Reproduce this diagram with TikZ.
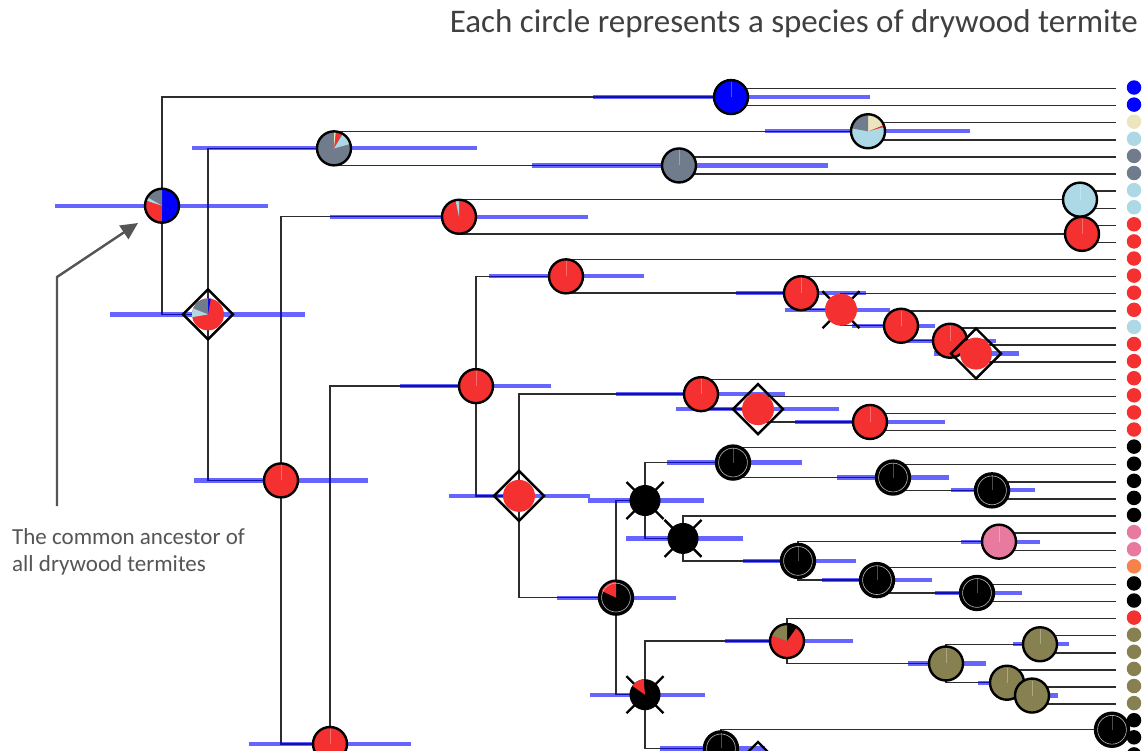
\documentclass[tikz,border=0pt]{standalone}
\usepackage{fontspec}
\setmainfont{Carlito}
\usetikzlibrary{arrows.meta}
\pgfdeclarelayer{bg}
\pgfsetlayers{bg,main}
\definecolor{cblue}{RGB}{0,0,255}
\definecolor{cred}{RGB}{245,48,48}
\definecolor{cgrey}{RGB}{112,124,140}
\definecolor{clblue}{RGB}{173,216,230}
\definecolor{cbeige}{RGB}{236,230,190}
\definecolor{cpink}{RGB}{232,122,160}
\definecolor{corange}{RGB}{245,130,75}
\definecolor{colive}{RGB}{135,128,80}
\definecolor{cline}{RGB}{45,45,45}
\definecolor{ctitle}{RGB}{64,64,64}
\definecolor{cann}{RGB}{85,85,85}
\newcommand\ndsolid[2]{%
  \fill[#2] (#1.center) circle[radius=17];
  \draw[white,opacity=.3,line width=.6] (#1.center) -- ++(0,15);
  \draw[ring] (#1.center) circle[radius=17];}
\newcommand\ndblk[1]{%
  \ndsolid{#1}{black}
  \draw[gray!55,line width=.6] (#1.center) circle[radius=14.4];}
\newcommand\ndwedges[3]{%
  \foreach \sa/\sb/\sc in {#3}{\fill[\sc] (#1.center) -- ++(\sa:#2) arc[start angle=\sa,end angle=\sb,radius=#2] -- cycle;}}
\newcommand\ndpie[3]{%
  \fill[#2] (#1.center) circle[radius=17];
  \ndwedges{#1}{17}{#3}
  \draw[ring] (#1.center) circle[radius=17];}
\newcommand\nddiam[1]{%
  \draw[dia] (#1.center) ++(25,0) -- ++(-25,25) -- ++(-25,-25) -- ++(25,-25) -- cycle;}
\newcommand\ndx[1]{%
  \draw[xarm] (#1.center) ++(-18.5,-18.5) -- ++(37,37);
  \draw[xarm] (#1.center) ++(-18.5,18.5) -- ++(37,-37);}
\begin{document}
\begin{tikzpicture}[x=1pt,y=1pt,
  hub/.style={circle,inner sep=0pt,minimum size=1pt},
  br/.style={draw=cline,line width=1.4},
  ci/.style={draw=cblue,line width=4.2,opacity=0.6},
  ring/.style={draw=black,line width=2.4},
  dia/.style={draw=black,line width=2.4,line join=miter},
  xarm/.style={draw=black,line width=2.4},
  tipdot/.style={circle,inner sep=0pt,minimum size=14.5pt},
  arr/.style={draw=cann,line width=2.4,-{Triangle[length=17pt,width=16pt]}}]
\useasboundingbox (0,0) rectangle (1146,-750);
% ---- node positions
\foreach \n/\x/\y in {root/162/205.7, nA/731/97.05, n208/208/314.4, nB/334/148.35,
  nC/868/131.25, nD/679/165.45, n281/281/480.4, nE/459/216.75, nF/1080/199.65,
  nG/1082/233.85, n330/330/744, nRed/476/386.1, nL/566/276.33, nM/801/293.17,
  nN/841/309.73, nO/901/325.76, nP/950/340.73, nQ/976/353.55, nH/519/495.88,
  nR/701/394.16, nS/758/409.13, nT/870/421.95, nI/616/597.6, nU/645/500.5,
  nV/733/462.56, nW/893/477.53, nX/992/490.35, nU2/683/538.44, nY/798/560.89,
  nZ/999/541.65, nZ1/877/580.13, nZ2/977/592.95, nJ/645/694.7, nK/787/641.05,
  o0/946/663.49, o1/1040/644.25, o2/1007/682.73, o3/1032/695.55, nBot/721/748.4,
  nBlk/1112/729.75, nDia/758/767}
  {\node[hub] (\n) at (\x,-\y) {};}
\coordinate (n330low) at (420,-1102);
\foreach \i in {0,...,40}{\coordinate (t\i) at (1116,{-88.5-17.1*\i});}
% ---- branches and bars
\begin{pgfonlayer}{bg}
\foreach \p/\a/\b in {root/nA/n208, nA/t0/t1, n208/nB/n281, nB/nC/nD, nC/t2/t3,
  nD/t4/t5, n281/nE/n330, nE/nF/nG, nF/t6/t7, nG/t8/t9, n330/nRed/n330low,
  nRed/nL/nH, nL/t10/nM, nM/t11/nN, nN/t12/nO, nO/t13/nP, nP/t14/nQ, nQ/t15/t16,
  nH/nR/nI, nR/t17/nS, nS/t18/nT, nT/t19/t20, nI/nU/nJ, nU/nV/nU2, nV/t21/nW,
  nW/t22/nX, nX/t23/t24, nU2/t25/nY, nY/nZ/nZ1, nZ/t26/t27, nZ1/t28/nZ2,
  nZ2/t29/t30, nJ/nK/nBot, nK/t31/o0, o0/o1/o2, o1/t32/t33, o2/t34/o3,
  o3/t35/t36, nBot/nBlk/nDia, nBlk/t37/t38, nDia/t39/t40}
  {\draw[br] (\a.center) -| (\p.center) |- (\b.center);}
\foreach \n/\l/\r in {root/55/268, nA/593/870, nB/192/477, nC/765/970, nD/532/828,
  nE/330/588, n208/110/305, n281/194/368, n330/249/411, nRed/400/551, nL/489/644,
  nM/736/866, nN/785/890, nO/852/935, nP/902/996, nQ/934/1019, nH/449/590,
  nR/616/785, nS/676/839, nT/795/945, nU/588/704, nV/667/802, nW/837/949,
  nX/951/1035, nU2/626/743, nY/743/856, nZ/961/1040, nZ1/822/932, nZ2/935/1022,
  nI/557/676, nJ/590/705, nK/725/853, o0/908/986, o1/1013/1069, o2/978/1030,
  o3/1010/1058, nBot/660/765}
  {\draw[ci] (\l,0 |- \n.center) -- (\r,0 |- \n.center);}
\end{pgfonlayer}
% ---- ancestral state nodes
\ndpie{root}{cred}{-90/90/cblue, 90/150/cgrey, 150/162/clblue}
\ndsolid{nA}{cblue}
\nddiam{n208}
\fill[cred] (n208.center) circle[radius=16];
\ndwedges{n208}{16}{80/90/cblue, 90/158/cgrey, 158/190/clblue}
\ndpie{nB}{cgrey}{15/58/clblue, 62/84/cred, 84/90/cbeige}
\ndpie{nC}{clblue}{15/22/cred, 22/90/cbeige, 90/170/cgrey}
\ndsolid{nD}{cgrey}
\ndsolid{n281}{cred}
\ndpie{nE}{cred}{90/102/clblue}
\ndsolid{nF}{clblue}
\ndsolid{nG}{cred}
\ndsolid{n330}{cred}
\ndsolid{nRed}{cred}
\ndsolid{nL}{cred}
\ndsolid{nM}{cred}
\ndx{nN}
\fill[cred] (nN.center) circle[radius=16];
\ndsolid{nO}{cred}
\ndsolid{nP}{cred}
\nddiam{nQ}
\fill[cred] (nQ.center) circle[radius=16];
\nddiam{nH}
\fill[cred] (nH.center) circle[radius=16];
\ndsolid{nR}{cred}
\nddiam{nS}
\fill[cred] (nS.center) circle[radius=16];
\ndsolid{nT}{cred}
\ndpie{nI}{black}{90/155/cred}
\draw[gray!55,line width=.6] (nI.center) circle[radius=14.4];
\ndx{nU}
\fill[black] (nU.center) circle[radius=15.5];
\ndblk{nV}
\ndblk{nW}
\ndblk{nX}
\ndx{nU2}
\fill[black] (nU2.center) circle[radius=15.5];
\ndblk{nY}
\ndsolid{nZ}{cpink}
\ndblk{nZ1}
\ndblk{nZ2}
\ndx{nJ}
\fill[black] (nJ.center) circle[radius=15.5];
\ndwedges{nJ}{15.5}{95/145/cred}
\ndpie{nK}{cred}{55/90/black, 90/160/colive}
\ndsolid{o0}{colive}
\ndsolid{o1}{colive}
\ndsolid{o2}{colive}
\ndsolid{o3}{colive}
\ndblk{nBot}
\nddiam{nDia}
\ndblk{nBlk}
% ---- tip states
\foreach \i/\c in {0/cblue,1/cblue,2/cbeige,3/clblue,4/cgrey,5/cgrey,6/clblue,7/clblue,
  8/cred,9/cred,10/cred,11/cred,12/cred,13/cred,14/clblue,15/cred,16/cred,17/cred,
  18/cred,19/cred,20/cred,21/black,22/black,23/black,24/black,25/black,26/cpink,
  27/cpink,28/corange,29/black,30/black,31/cred,32/colive,33/colive,34/colive,
  35/colive,36/colive,37/black,38/black,39/black}
  {\node[tipdot,fill=\c] (d\i) at (1134,{-87.5-17.1*\i}) {};}
% ---- texts
\node[anchor=base east,inner sep=0pt,text=ctitle,font=\fontsize{33}{40}\selectfont] (title) at (1138,-32) {Each circle represents a species of drywood termite};
\node[anchor=base west,inner sep=0pt,align=left,text=cann,font=\fontsize{23}{27}\selectfont] (ann) at (12,-571) {The common ancestor of\\all drywood termites};
\coordinate (abot) at (57,-506);
\coordinate (abend) at (57,-277);
\coordinate (atip) at (138,-223);
\draw[arr] (abot) -- (abend) -- (atip);
\end{tikzpicture}
\end{document}
